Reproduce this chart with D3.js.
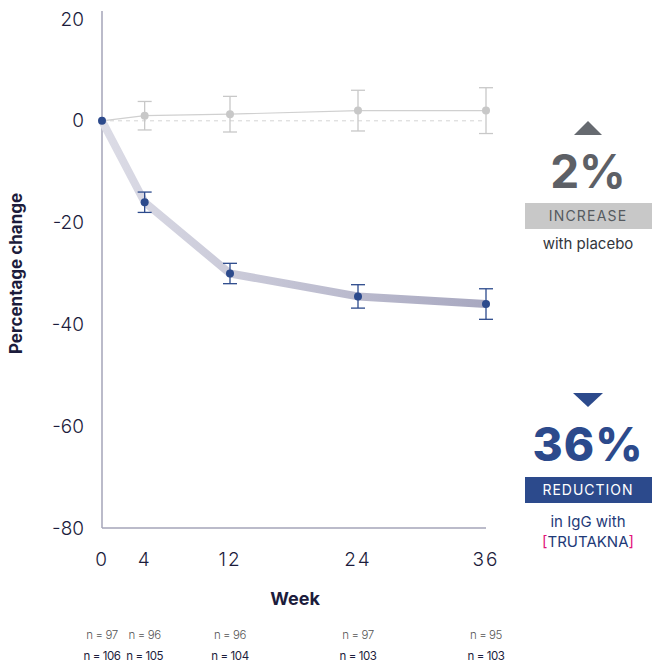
<!DOCTYPE html>
<html>
<head>
<meta charset="utf-8">
<script src="https://cdn.jsdelivr.net/npm/d3@7"></script>
<style>
  body { margin: 0; background: #fff; }
  svg { font-family: Inter, "Noto Sans", sans-serif; }
</style>
</head>
<body>
<div id="chart"></div>
<script>
// Chart data
const weeks = [0, 4, 12, 24, 36];
const drugMean = [0, -16, -30, -34.5, -36];
const drugErr = [0, 2, 2, 2.3, 3];
const placeboMean = [0, 1, 1.3, 2, 2];
const placeboErr = [0, 2.8, 3.5, 4, 4.5];
const yTicks = [20, 0, -20, -40, -60, -80];
const nPlacebo = ["n = 97", "n = 96", "n = 96", "n = 97", "n = 95"];
const nDrug = ["n = 106", "n = 105", "n = 104", "n = 103", "n = 103"];

const width = 656, height = 662;
const navy = "#2c4a8c";
const grey = "#c8c8c8";

const svg = d3.select('#chart')
    .append('svg')
    .attr('width', width)
    .attr('height', height);

// Scales
const x = d3.scaleLinear().domain([0, 36]).range([102, 486]);
const y = d3.scaleLinear().domain([-80, 20]).range([528, 19]);

// Axes lines
svg.append('line')
    .attr('x1', x(0)).attr('x2', x(0))
    .attr('y1', 11).attr('y2', y(-80))
    .attr('stroke', '#a4a4b8').attr('stroke-width', 1.5);
svg.append('line')
    .attr('x1', x(0)).attr('x2', x(36))
    .attr('y1', y(-80)).attr('y2', y(-80))
    .attr('stroke', '#a4a4b8').attr('stroke-width', 1.5);

// Y tick labels
svg.selectAll('.ytick').data(yTicks).join('text')
    .attr('x', 84)
    .attr('y', d => y(d))
    .attr('dy', '0.35em')
    .attr('text-anchor', 'end')
    .attr('font-size', 19)
    .attr('font-weight', 300)
    .attr('fill', '#1c1c3c')
    .text(d => d);

// X tick labels
svg.selectAll('.xtick').data(weeks).join('text')
    .attr('x', d => x(d))
    .attr('y', 566)
    .attr('text-anchor', 'middle')
    .attr('font-size', 19)
    .attr('font-weight', 300)
    .attr('letter-spacing', 2)
    .attr('fill', '#1c1c3c')
    .text(d => d);

// Axis titles
svg.append('text')
    .attr('transform', `translate(22,${y(-30)}) rotate(-90)`)
    .attr('text-anchor', 'middle')
    .attr('font-size', 17)
    .attr('font-weight', 700)
    .attr('fill', '#1c1c3c')
    .text('Percentage change');
svg.append('text')
    .attr('x', 295).attr('y', 605)
    .attr('text-anchor', 'middle')
    .attr('font-size', 18)
    .attr('font-weight', 700)
    .attr('fill', '#1c1c3c')
    .text('Week');

// n counts
svg.selectAll('.np').data(nPlacebo).join('text')
    .attr('x', (d, i) => x(weeks[i]))
    .attr('y', 639)
    .attr('text-anchor', 'middle')
    .attr('font-size', 11.5)
    .attr('font-weight', 300)
    .attr('letter-spacing', -0.4)
    .attr('fill', '#555')
    .text(d => d);
svg.selectAll('.nd').data(nDrug).join('text')
    .attr('x', (d, i) => x(weeks[i]))
    .attr('y', 660)
    .attr('text-anchor', 'middle')
    .attr('font-size', 11.5)
    .attr('letter-spacing', -0.4)
    .attr('fill', '#1c1c3c')
    .text(d => d);

// Baseline dashed line
svg.append('line')
    .attr('x1', x(0)).attr('x2', x(36))
    .attr('y1', y(0)).attr('y2', y(0))
    .attr('stroke', '#d4d4d4').attr('stroke-width', 1)
    .attr('stroke-dasharray', '4,4');

const line = d3.line().x(d => x(d[0])).y(d => y(d[1]));

// Placebo series
const pData = weeks.map((w, i) => [w, placeboMean[i], placeboErr[i]]);
svg.append('path').datum(pData)
    .attr('d', line)
    .attr('fill', 'none')
    .attr('stroke', '#d0d0d0')
    .attr('stroke-width', 1.2);
const pErr = svg.append('g').attr('stroke', grey).attr('stroke-width', 1.3);
pData.slice(1).forEach(d => {
    pErr.append('line').attr('x1', x(d[0])).attr('x2', x(d[0]))
        .attr('y1', y(d[1] + d[2])).attr('y2', y(d[1] - d[2]));
    [d[1] + d[2], d[1] - d[2]].forEach(v => {
        pErr.append('line').attr('x1', x(d[0]) - 7).attr('x2', x(d[0]) + 7)
            .attr('y1', y(v)).attr('y2', y(v));
    });
});
svg.selectAll('.pdot').data(pData.slice(1)).join('circle')
    .attr('cx', d => x(d[0])).attr('cy', d => y(d[1]))
    .attr('r', 4).attr('fill', grey);

// Drug series: thick gradient band
const defs = svg.append('defs');
const grad = defs.append('linearGradient')
    .attr('id', 'band')
    .attr('gradientUnits', 'userSpaceOnUse')
    .attr('x1', x(0)).attr('x2', x(36)).attr('y1', 0).attr('y2', 0);
grad.append('stop').attr('offset', '0%').attr('stop-color', '#dcdce6');
grad.append('stop').attr('offset', '100%').attr('stop-color', '#a8a8c0');

const dData = weeks.map((w, i) => [w, drugMean[i], drugErr[i]]);
svg.append('path').datum(dData)
    .attr('d', line)
    .attr('fill', 'none')
    .attr('stroke', 'url(#band)')
    .attr('stroke-width', 8)
    .attr('stroke-linejoin', 'round');
const dErr = svg.append('g').attr('stroke', navy).attr('stroke-width', 1.3);
dData.slice(1).forEach(d => {
    dErr.append('line').attr('x1', x(d[0])).attr('x2', x(d[0]))
        .attr('y1', y(d[1] + d[2])).attr('y2', y(d[1] - d[2]));
    [d[1] + d[2], d[1] - d[2]].forEach(v => {
        dErr.append('line').attr('x1', x(d[0]) - 7).attr('x2', x(d[0]) + 7)
            .attr('y1', y(v)).attr('y2', y(v));
    });
});
svg.selectAll('.ddot').data(dData).join('circle')
    .attr('cx', d => x(d[0])).attr('cy', d => y(d[1]))
    .attr('r', 4).attr('fill', navy);

// Right side callouts
const cx = 588;
svg.append('path')
    .attr('d', `M${cx - 14},135 L${cx + 14},135 L${cx},121 Z`)
    .attr('fill', '#666a70');
svg.append('text')
    .attr('x', cx).attr('y', 188)
    .attr('text-anchor', 'middle')
    .attr('font-size', 46).attr('font-weight', 700)
    .attr('fill', '#5d6066')
    .text('2%');
svg.append('rect')
    .attr('x', 525).attr('y', 203).attr('width', 127).attr('height', 26)
    .attr('fill', '#c8c8c8');
svg.append('text')
    .attr('x', cx).attr('y', 221)
    .attr('text-anchor', 'middle')
    .attr('font-size', 14).attr('letter-spacing', 1.2)
    .attr('fill', '#555a60')
    .text('INCREASE');
svg.append('text')
    .attr('x', cx).attr('y', 249)
    .attr('text-anchor', 'middle')
    .attr('font-size', 15)
    .attr('fill', '#33363c')
    .text('with placebo');

svg.append('path')
    .attr('d', `M${cx - 15},393 L${cx + 15},393 L${cx},407 Z`)
    .attr('fill', navy);
svg.append('text')
    .attr('x', cx).attr('y', 461)
    .attr('text-anchor', 'middle')
    .attr('font-size', 46).attr('font-weight', 800)
    .attr('letter-spacing', 1)
    .attr('fill', navy)
    .text('36%');
svg.append('rect')
    .attr('x', 525).attr('y', 477).attr('width', 127).attr('height', 26)
    .attr('fill', navy);
svg.append('text')
    .attr('x', cx).attr('y', 495)
    .attr('text-anchor', 'middle')
    .attr('font-size', 14).attr('letter-spacing', 1)
    .attr('fill', '#fff')
    .text('REDUCTION');
svg.append('text')
    .attr('x', cx).attr('y', 527)
    .attr('text-anchor', 'middle')
    .attr('font-size', 15)
    .attr('fill', '#1e3a78')
    .text('in IgG with');
const brand = svg.append('text')
    .attr('x', cx).attr('y', 547)
    .attr('text-anchor', 'middle')
    .attr('font-size', 15)
    .attr('fill', '#1e3a78');
brand.append('tspan').attr('fill', '#e2127a').text('[');
brand.append('tspan').text('TRUTAKNA');
brand.append('tspan').attr('fill', '#e2127a').text(']');
</script>
</body>
</html>
